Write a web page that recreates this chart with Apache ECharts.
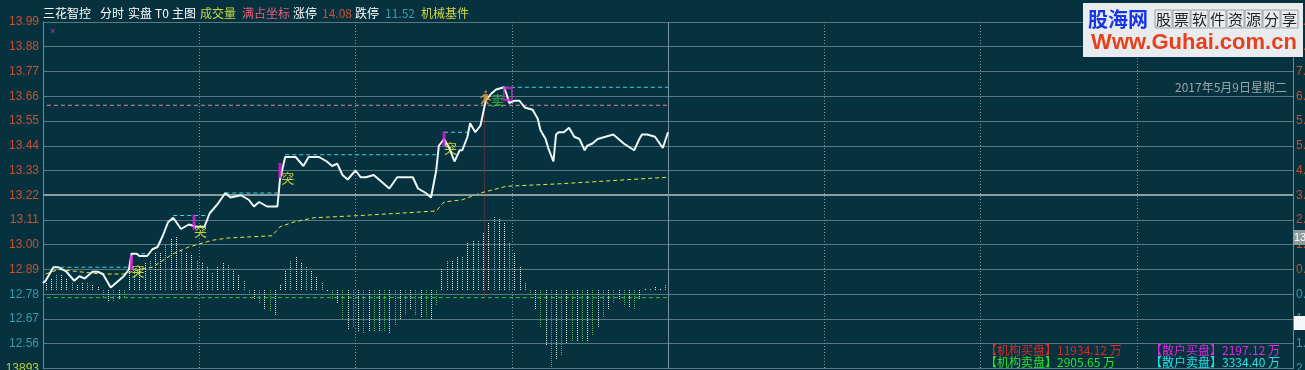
<!DOCTYPE html>
<html><head><meta charset="utf-8">
<script src="https://cdn.jsdelivr.net/npm/echarts@6/dist/echarts.min.js"></script>
<style>html,body{margin:0;padding:0;background:#06323f;}#c{width:1305px;height:370px;}</style>
</head><body><div id="c"></div>
<script>
// ---- data ----
const prevClose = 12.80;
const yTicksMin = 12.45, yTicksMax = 13.99, yStep = 0.11;
const volLabel = '13893';
// minute (0..240 = one trading day; axis shows two days 0..480)
const priceT = [0,1,4,6,9,12,14,16,19,21,23,26,28,31,33,34,36,37,40,42,44,46,48,50,53,56,59,62,64,67,70,72,76,79,81,83,86,90,91,93,97,100,102,106,109,111,113,115,117,120,122,124,127,131,133,136,142,144,147,149,151,152,154,156,158,160,161,163,164,166,168,170,172,174,177,178,179,181,183,185,188,190,191,193,194,196,197,198,200,202,204,206,208,209,211,213,216,219,221,223,227,229,230,232,235,238,240];
const priceP = [12.83,12.84,12.90,12.90,12.88,12.84,12.86,12.85,12.88,12.88,12.87,12.81,12.83,12.86,12.89,12.96,12.96,12.95,12.95,12.98,12.99,13.04,13.10,13.12,13.07,13.09,13.08,13.08,13.14,13.18,13.23,13.21,13.22,13.20,13.17,13.19,13.17,13.17,13.29,13.39,13.39,13.35,13.39,13.39,13.37,13.35,13.36,13.31,13.29,13.33,13.30,13.30,13.31,13.27,13.25,13.30,13.30,13.25,13.23,13.21,13.33,13.44,13.47,13.43,13.37,13.42,13.42,13.48,13.54,13.50,13.53,13.64,13.67,13.69,13.70,13.67,13.63,13.64,13.64,13.61,13.60,13.56,13.51,13.47,13.43,13.37,13.49,13.50,13.50,13.52,13.48,13.47,13.42,13.44,13.45,13.47,13.48,13.49,13.47,13.45,13.42,13.47,13.49,13.49,13.48,13.43,13.50];
const avgT = [1,6,22,31,37,42,50,56,65,71,88,91,96,104,122,151,154,161,168,178,197,240];
const avgP = [12.87,12.89,12.87,12.87,12.89,12.90,12.96,12.99,13.02,13.03,13.04,13.08,13.10,13.12,13.13,13.15,13.19,13.20,13.23,13.26,13.27,13.30];
const barT = [1,3,5,7,9,11,13,15,17,19,21,23,25,27,29,31,33,35,37,39,41,43,45,47,49,51,53,55,57,59,61,63,65,67,69,71,73,75,77,79,81,83,85,87,89,91,93,95,97,99,101,103,105,107,109,111,113,115,117,119,121,123,125,127,129,131,133,135,137,139,141,143,145,147,149,151,153,155,157,159,161,163,165,167,169,171,173,175,177,179,181,183,185,187,189,191,193,195,197,199,201,203,205,207,209,211,213,215,217,219,221,223,225,227,229,231,233,235,237,239];
const barV = [7,12,15,15,12,8,5,7,7,5,
  3,-7,-12,-12,-9,-7,20,20,23,28,
  30,37,38,45,52,53,40,37,35,30,
  27,23,18,23,28,25,20,15,10,-5,
  -10,-13,-20,-22,-25,5,20,30,34,27,
  23,20,13,7,-2,-10,-13,-29,-40,-38,
  -42,-43,-42,-42,-42,-42,-44,-35,-29,-25,
  -20,-25,-28,-28,-30,-15,21,30,29,34,
  33,48,49,50,58,68,73,72,68,48,
  38,23,7,-5,-20,-38,-55,-78,-70,-65,
  -53,-52,-52,-52,-52,-45,-37,-27,-20,-13,
  -10,-15,-18,-20,-10,2,2,3,2,5];
// breakout resistance levels (cyan dashed)
const levelT0 = [4,35,50,70,93,154,177];
const levelT1 = [33,41,63,90,152,163,240];
const levelP  = [12.90,12.96,13.13,13.23,13.40,13.50,13.70];
// reference lines
const refT0 = 1.5, refT1 = 240;
const pinkP = 13.62, greenP = 12.765;
// "突" signals
const tuBarT = [34,58,91,154];
const tuBarP = [12.92,13.10,13.33,13.47];
const tuTxtT = [36.5,60.5,94,156.5];
const tuTxtP = [12.885,13.06,13.295,13.43];
// sell signal
const sellLineT = 169.5, sellLineTop = 13.66;
const runT = 170, runP = 13.655;
const sellT = 174.5, sellP = 13.645;
const tMarkT = 178.5, tMarkP = 13.67;
const legendRows = [
  ['【机构买盘】11934.12 万','#e02828',985,350],
  ['【机构卖盘】2905.65 万','#28e028',985,362],
  ['【散户买盘】2197.12 万','#e028e0',1150,350],
  ['【散户卖盘】3334.40 万','#28e0e0',1150,362]
];

// ---- chart ----
const chart = echarts.init(document.getElementById('c'));
const UP = '#c8502f', DN = '#3c9aa6';
const gridCol = '#58797f';
const fam = '"Liberation Sans", Arial, sans-serif';
const cjk = '"Noto Sans CJK SC", sans-serif';

function pair(ts, ps){ return ts.map((t,i)=>[t, ps[i]]); }

const series = [];
series.push({
  type:'line', data: pair(priceT, priceP), showSymbol:false, z:6,
  lineStyle:{color:'#eef8f6', width:2},
  markLine:{silent:true, symbol:'none', label:{show:false},
    data:[
      {yAxis:13.22, lineStyle:{color:'#8d9c9c', width:2, type:'solid'}},
      {xAxis:240, lineStyle:{color:'#7593a0', width:1, type:'solid'}}
    ]}
});
series.push({type:'line', data: pair(avgT, avgP), showSymbol:false, z:4,
  lineStyle:{color:'#e6e640', width:1, type:[4,3]}});
series.push({type:'line', data:[[refT0,pinkP],[refT1,pinkP]], showSymbol:false, z:3,
  lineStyle:{color:'#e88494', width:1, type:[4,3]}});
series.push({type:'line', data:[[refT0,greenP],[refT1,greenP]], showSymbol:false, z:3,
  lineStyle:{color:'#34c834', width:1, type:[4,3]}});
levelP.forEach((p,i)=>{
  series.push({type:'line', data:[[levelT0[i],p],[levelT1[i],p]], showSymbol:false, z:3,
    lineStyle:{color:'#3fd6e6', width:1, type:[4,3]}});
});
series.push({type:'line', data:[[sellLineT,sellLineTop],[sellLineT,greenP]], showSymbol:false, z:3,
  lineStyle:{color:'#a8303a', width:1, type:[1,1]}});
series.push({
  type:'custom', yAxisIndex:2, z:2,
  data: barT.map((t,i)=>[t, barV[i], i]),
  renderItem:(params, api)=>{
    const t=api.value(0), v=api.value(1), i=api.value(2);
    const a=api.coord([t,0]), b=api.coord([t,v]);
    const x=Math.round(a[0])+0.5;
    let c;
    if (v>=0) c = (i%3===2) ? '#7fc8c8' : '#e6f2f0';
    else c = (i%2) ? '#44c044' : '#d8ecd8';
    return {type:'line', shape:{x1:x,y1:a[1],x2:x,y2:b[1]}, style:{stroke:c, lineWidth:1, lineDash:[1,1]}};
  }
});
series.push({type:'scatter', data: pair(tuBarT, tuBarP), symbol:'rect', symbolSize:[3,15], z:7,
  itemStyle:{color:'#e21ee2'}});
series.push({type:'scatter', data: pair(tuTxtT, tuTxtP), symbolSize:1, z:8,
  itemStyle:{color:'rgba(0,0,0,0)'},
  label:{show:true, position:'inside', formatter:'突', color:'#f2f23c', fontSize:13, fontFamily:cjk}});
series.push({type:'scatter', data:[[runT,runP]], z:8,
  symbol:'path://M6,0 C7.7,0 7.7,3 6,3 C4.3,3 4.3,0 6,0 Z M4,4 L8,4 L9,8 L12,10 L11,11.5 L7.8,9.5 L7,11 L9.5,14 L8,15 L5,11.5 L2,15 L0.5,14 L4,9 L3.5,6.5 L1,8.5 L0,7.5 Z',
  symbolSize:[11,14], itemStyle:{color:'#e6a040'}});
series.push({type:'scatter', data:[[sellT,sellP]], symbolSize:1, z:8,
  itemStyle:{color:'rgba(0,0,0,0)'},
  label:{show:true, position:'inside', formatter:'卖', color:'#38d838', fontSize:13, fontFamily:cjk}});
series.push({type:'scatter', data:[[tMarkT,tMarkP]], symbol:'rect', symbolSize:[8,12], z:8,
  itemStyle:{color:'rgba(0,0,0,0)', borderColor:'#d020d0', borderWidth:2}});

function leftLabel(v){
  if (Math.abs(v-yTicksMin)<1e-6) return '{v|'+volLabel+'}';
  return (v>=prevClose ? '{u|' : '{d|') + v.toFixed(2) + '}';
}
function rightLabel(v){
  const pct = (v-prevClose)/prevClose*100;
  return (v>=prevClose ? '{u|' : '{d|') + Math.abs(pct).toFixed(2) + '%}';
}
const rich = {u:{color:UP, fontSize:12, fontFamily:fam}, d:{color:DN, fontSize:12, fontFamily:fam}, v:{color:'#b9d330', fontSize:12, fontFamily:fam}};

const graphic = [];
function txt(x,y,s,color,size,font,align,weight){
  graphic.push({type:'text', x:x, y:y, silent:true, z:100,
    style:{text:s, fill:color, font:(weight||'normal')+' '+size+'px '+(font||cjk), textAlign:align||'left', textVerticalAlign:'middle'}});
}
const header = [
  ['三花智控',43,'#ffffff'],['分时',100,'#ffffff'],['实盘',128,'#ffffff'],['T0',155,'#ffffff'],['主图',172,'#ffffff'],
  ['成交量',200,'#c9d840'],['满占坐标',242,'#ea5f78'],['涨停',293,'#ffffff'],['14.08',322,UP],['跌停',355,'#ffffff'],['11.52',385,DN],['机械基件',421,'#d8d83c']
];
header.forEach(h=>txt(h[1],13,h[0],h[2],12));
legendRows.forEach(r=>txt(r[2],r[3],r[0],r[1],12));
txt(1287,87,'2017年5月9日星期二','#9aa6aa',12,cjk,'right');
txt(50,32,'×','#c030d0',9,fam);
// right-axis cursor boxes
graphic.push({type:'rect', shape:{x:1293,y:230,width:12,height:15}, style:{fill:'#8f9a9c'}, z:99, silent:true});
txt(1294,238,'13','#ffffff',11,fam);
graphic.push({type:'rect', shape:{x:1294,y:316,width:11,height:14}, style:{fill:'#f4f8f8'}, z:99, silent:true});
// watermark
graphic.push({type:'rect', shape:{x:1083,y:3,width:220,height:54}, style:{fill:'#e9ecef'}, z:99, silent:true});
txt(1088,19,'股海网','#1434e8',20,cjk,'left','bold');
'股票软件资源分享'.split('').forEach((ch,i)=>{
  graphic.push({type:'rect', shape:{x:1155+i*18,y:10,width:17,height:18}, style:{fill:'none', stroke:'#9aa0a4', lineWidth:1}, z:100, silent:true});
  txt(1155+i*18+8.5,19.5,ch,'#202020',15,cjk,'center');
});
txt(1194,43,'Www.Guhai.com.cn','#e8401c',22,'"Liberation Sans", Arial, sans-serif','center','bold');

chart.setOption({
  backgroundColor:'#06323f',
  animation:false,
  grid:{left:43, right:12, top:22, bottom:1.5, containLabel:false, outerBoundsMode:'none'},
  xAxis:[{type:'value', min:0, max:480, interval:60,
    axisLine:{show:false}, axisTick:{show:false}, axisLabel:{show:false},
    splitLine:{show:true, lineStyle:{color:'#7096a0', type:[1,2], width:1}}}],
  yAxis:[
    {type:'value', min:yTicksMin, max:yTicksMax, interval:yStep, position:'left',
      axisLine:{show:true, lineStyle:{color:'#6d8c92'}}, axisTick:{show:false},
      axisLabel:{formatter:leftLabel, rich:rich, margin:4},
      splitLine:{show:true, lineStyle:{color:gridCol, width:1}}},
    {type:'value', min:yTicksMin, max:yTicksMax, interval:yStep, position:'right',
      axisLine:{show:true, lineStyle:{color:'#6d8c92'}}, axisTick:{show:false},
      axisLabel:{formatter:rightLabel, rich:rich, margin:3},
      splitLine:{show:false}},
    {type:'value', min:-78.5, max:268, show:false, splitLine:{show:false}}
  ],
  series: series,
  graphic: graphic
});
</script></body></html>
